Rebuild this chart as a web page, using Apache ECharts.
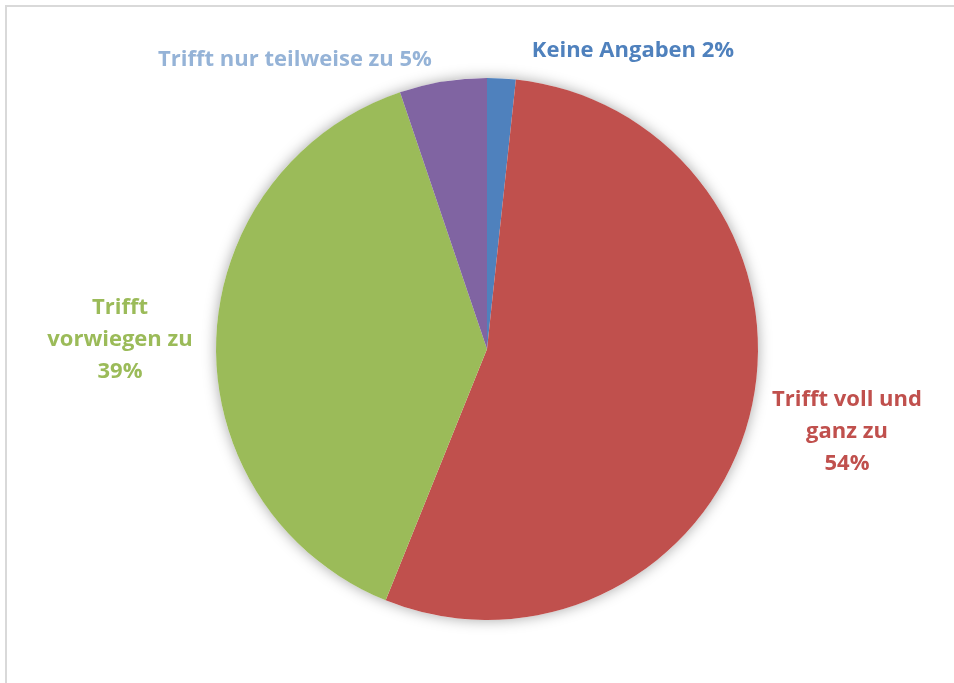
<!DOCTYPE html>
<html>
<head>
<meta charset="utf-8">
<script src="https://cdn.jsdelivr.net/npm/echarts@6/dist/echarts.min.js"></script>
<style>
	html, body { margin: 0; padding: 0; background: #fff; }
	#frame { position: absolute; left: 5px; top: 5px; width: 960px; height: 690px; border: 2px solid #d9d9d9; box-sizing: border-box; }
	#graphContainer { position: absolute; left: 0; top: 0; width: 954px; height: 683px; }
</style>
</head>
<body>
<div id="frame"></div>
<div id="graphContainer"></div>
<script>
// slices, clockwise from 12 o'clock
var categories = ['Keine Angaben', 'Trifft voll und ganz zu', 'Trifft vorwiegen zu', 'Trifft nur teilweise zu'];
var labelLines = [['Keine Angaben'], ['Trifft voll und', 'ganz zu'], ['Trifft', 'vorwiegen zu'], ['Trifft nur teilweise zu']];
var values = [1.7, 54.4, 38.7, 5.2];
var sliceColors = ['#4f81bd', '#c0504d', '#9bbb59', '#8064a2'];
var labelColors = ['#4f81bd', '#c0504d', '#9bbb59', '#95b3d7'];
var labelPos = [[633, 51], [847, 432], [120, 340], [295, 60]];

var seriesData = [];
for (var i = 0; i < categories.length; i++) {
	seriesData.push({
		name: categories[i],
		value: values[i],
		itemStyle: { color: sliceColors[i] },
		label: { color: labelColors[i] }
	});
}

var dom = document.getElementById('graphContainer');
var myEChart = echarts.init(dom, null, { renderer: 'canvas' });

var option = {
	animation: false,
	series: [
		{
			// soft shadow behind the pie
			type: 'pie',
			silent: true,
			center: [487, 349],
			radius: 271,
			label: { show: false },
			labelLine: { show: false },
			itemStyle: {
				color: '#fff',
				shadowBlur: 14,
				shadowColor: 'rgba(0,0,0,0.35)'
			},
			data: [1]
		},
		{
			type: 'pie',
			center: [487, 349],
			radius: 271,
			startAngle: 90,
			clockwise: true,
			percentPrecision: 0,
			itemStyle: { borderWidth: 0 },
			labelLine: { show: false },
			label: {
				show: true,
				position: 'inner',
				overflow: 'none',
				fontFamily: 'Open Sans',
				fontWeight: 'bold',
				fontSize: 22,
				lineHeight: 32,
				align: 'center',
				formatter: function (p) {
					var lines = labelLines[p.dataIndex];
					if (lines.length == 1)
						return lines[0] + ' ' + p.percent + '%';
					return lines.join('\n') + '\n' + p.percent + '%';
				}
			},
			labelLayout: function (params) {
				var pos = labelPos[params.dataIndex];
				return {
					x: pos[0],
					y: pos[1],
					align: 'center',
					verticalAlign: 'middle'
				};
			},
			data: seriesData
		}
	]
};
myEChart.setOption(option);
window.addEventListener('resize', myEChart.resize);
</script>
</body>
</html>
